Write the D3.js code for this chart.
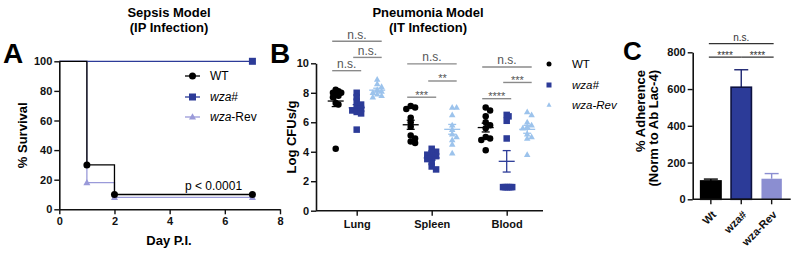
<!DOCTYPE html>
<html><head><meta charset="utf-8">
<script src="https://cdn.jsdelivr.net/npm/d3@7"></script>
<style>
body{margin:0;background:#fff}
svg{display:block;background:#fff}
text{font-family:"Liberation Sans",Arial,Helvetica,sans-serif}
</style>
</head><body>
<svg id="chart" width="798" height="253"></svg>
<script>
// ---------------- DATA ----------------
// Panel A: survival (Kaplan-Meier steps)
const survDaysWT  = [0, 1, 2, 7];
const survPctWT   = [100, 30, 10, 10];
const survDaysMut = [0, 7];
const survPctMut  = [100, 100];
const survDaysRev = [0, 1, 2, 7];
const survPctRev  = [100, 18, 8, 8];
const dayTicks  = [0, 2, 4, 6, 8];
const survTicks = [0, 20, 40, 60, 80, 100];
const survLegend = ["WT", "wza#", "wza-Rev"];
const survP = "p < 0.0001";

// Panel B: Log CFUs/g per organ
const organs = ["Lung", "Spleen", "Blood"];
const cfuGroups = ["WT", "wza#", "wza-Rev"];
const cfuWT  = [[8.2, 8.1, 8.0, 8.0, 7.9, 7.8, 7.7, 7.3, 7.2, 4.2],
                [7.1, 7.0, 6.9, 6.3, 6.0, 5.7, 5.1, 4.9, 4.7, 4.6],
                [7.0, 6.8, 6.4, 6.0, 5.8, 5.6, 5.0, 4.9, 4.8, 4.1]];
const cfuMut = [[8.0, 7.7, 7.4, 7.2, 7.0, 6.9, 6.8, 6.7, 6.6, 5.5],
                [4.2, 4.0, 3.9, 3.8, 3.7, 3.6, 3.5, 3.3, 3.0, 2.8],
                [6.5, 6.4, 6.1, 4.9, 1.6, 1.6, 1.6, 1.6, 1.6, 1.6]];
const cfuRev = [[8.9, 8.6, 8.4, 8.2, 8.1, 8.0, 7.9, 7.8, 7.7],
                [7.0, 7.0, 6.5, 5.8, 5.5, 5.2, 5.0, 4.8, 4.5, 3.9],
                [6.7, 6.5, 6.0, 5.8, 5.7, 5.6, 5.2, 5.0, 4.9, 3.8]];
const cfuTicks = [0, 2, 4, 6, 8, 10];
// significance: organ, group a, group b, label, height (log CFU units)
const cfuSigOrgan = ["Lung","Lung","Lung","Spleen","Spleen","Spleen","Blood","Blood","Blood"];
const cfuSigA     = ["WT","WT","wza#","WT","wza#","WT","WT","wza#","WT"];
const cfuSigB     = ["wza-Rev","wza#","wza-Rev","wza-Rev","wza-Rev","wza#","wza-Rev","wza-Rev","wza#"];
const cfuSigLabel = ["n.s.","n.s.","n.s.","n.s.","**","***","n.s.","***","****"];
const cfuSigLevel = [11.5, 9.5, 10.4, 9.96, 8.8, 7.7, 9.75, 8.7, 7.6];

// Panel C: adherence bars
const adhLabels = ["Wt", "wza#", "wza-Rev"];
const adhMean = [100, 610, 112];
const adhSem  = [10, 95, 28];
const adhTicks = [0, 200, 400, 600, 800];
const adhSigA = ["Wt", "Wt", "wza#"];
const adhSigB = ["wza-Rev", "wza#", "wza-Rev"];
const adhSigLabel = ["n.s.", "****", "****"];
const adhSigLevel = [847, 774, 774];

// ---------------- STYLE ----------------
const cBlack = "#000000", cMut = "#2c3b98";
const cRevA = "#9a9ad9", cRevB = "#9cc3ec", cRevC = "#8b8ed1";
const FONT = '"Liberation Sans",Arial,Helvetica,sans-serif';

const svg = d3.select("#chart");

function styleAxis(g, fs) {
  g.selectAll(".domain").attr("stroke", "#111").attr("stroke-width", 1.6);
  g.selectAll(".tick line").attr("stroke", "#111").attr("stroke-width", 1.4);
  g.selectAll(".tick text").attr("fill", "#111").attr("font-size", fs || 11)
    .attr("font-weight", "bold").attr("font-family", FONT);
}

function marker(sel, shape, size, color) {
  if (shape === "circle") return sel.append("circle").attr("r", size / 2).attr("fill", color);
  if (shape === "square") return sel.append("rect").attr("x", -size / 2).attr("y", -size / 2)
    .attr("width", size).attr("height", size).attr("fill", color);
  const h = size * 0.9;
  return sel.append("path").attr("d", `M0,${-h*0.6}L${size/2},${h*0.4}L${-size/2},${h*0.4}Z`).attr("fill", color);
}

// ================= PANEL A =================
{
  const xA = d3.scaleLinear([0, 8], [59.3, 280]);
  const yA = d3.scaleLinear([0, 100], [209.3, 61.3]);
  const g = svg.append("g");

  g.append("text").attr("x", 169).attr("y", 17).attr("text-anchor", "middle")
    .attr("font-size", 13).attr("font-weight", "bold").text("Sepsis Model");
  g.append("text").attr("x", 169).attr("y", 32).attr("text-anchor", "middle")
    .attr("font-size", 13).attr("font-weight", "bold").text("(IP Infection)");
  g.append("text").attr("x", 3).attr("y", 63).attr("font-size", 28)
    .attr("font-weight", "bold").text("A");

  const series = [
    {days: survDaysMut, pct: survPctMut, color: cMut, shape: "square"},
    {days: survDaysRev, pct: survPctRev, color: cRevA, shape: "triangle"},
    {days: survDaysWT,  pct: survPctWT,  color: cBlack, shape: "circle"}
  ];
  const line = d3.line().curve(d3.curveStepAfter).x(d => xA(d[0])).y(d => yA(d[1]));
  series.forEach(s => {
    const pts = s.days.map((d, i) => [d, s.pct[i]]);
    g.append("path").attr("d", line(pts)).attr("fill", "none")
      .attr("stroke", s.color).attr("stroke-width", 1.3);
  });
  series.forEach(s => {
    s.days.forEach((d, i) => {
      if (d === 0) return;
      const m = g.append("g").attr("transform", `translate(${xA(d)},${yA(s.pct[i])})`);
      marker(m, s.shape, 7, s.color);
    });
  });

  const ax = g.append("g").attr("transform", `translate(0,${yA(0)})`)
    .call(d3.axisBottom(xA).tickValues(dayTicks).tickSize(5).tickSizeOuter(0).tickPadding(3));
  styleAxis(ax, 11);
  const ay = g.append("g").attr("transform", `translate(${xA(0)},0)`)
    .call(d3.axisLeft(yA).tickValues(survTicks).tickSize(5).tickSizeOuter(0).tickPadding(2));
  styleAxis(ay, 11);

  g.append("text").attr("x", 169).attr("y", 245).attr("text-anchor", "middle")
    .attr("font-size", 13).attr("font-weight", "bold").text("Day P.I.");
  g.append("text").attr("transform", `translate(27,${(yA(0)+yA(100))/2}) rotate(-90)`)
    .attr("text-anchor", "middle").attr("font-size", 13).attr("font-weight", "bold").text("% Survival");

  // legend
  const legColors = [cBlack, cMut, cRevA];
  const legShapes = ["circle", "square", "triangle"];
  const legY = [76, 97, 117];
  survLegend.forEach((name, i) => {
    const lg = g.append("g").attr("transform", `translate(0,${legY[i]})`);
    lg.append("line").attr("x1", 185).attr("x2", 200).attr("stroke", legColors[i]).attr("stroke-width", 1.3);
    const m = lg.append("g").attr("transform", "translate(192.5,0)");
    marker(m, legShapes[i], 7, legColors[i]);
    const t = lg.append("text").attr("x", 210).attr("y", 4.3).attr("font-size", 12);
    if (name === "WT") t.text(name);
    else {
      const base = name.startsWith("wza") ? "wza" : "";
      t.append("tspan").attr("font-style", "italic").text(base);
      t.append("tspan").text(name.slice(base.length));
    }
  });
  g.append("text").attr("x", 185).attr("y", 190).attr("font-size", 12).text(survP);
}

// ================= PANEL B =================
{
  const yB = d3.scaleLinear([0, 10], [210.7, 63.3]);
  const xB = d3.scalePoint(organs, [356.7, 506.7]);
  const gOff = {"WT": -21, "wza#": 0, "wza-Rev": 20.5};
  const g = svg.append("g");

  g.append("text").attr("x", 428).attr("y", 17).attr("text-anchor", "middle")
    .attr("font-size", 13).attr("font-weight", "bold").text("Pneumonia Model");
  g.append("text").attr("x", 428).attr("y", 32).attr("text-anchor", "middle")
    .attr("font-size", 13).attr("font-weight", "bold").text("(IT Infection)");
  g.append("text").attr("x", 270).attr("y", 63).attr("font-size", 28)
    .attr("font-weight", "bold").text("B");

  const ay = g.append("g").attr("transform", "translate(316,0)")
    .call(d3.axisLeft(yB).tickValues(cfuTicks).tickSize(5).tickSizeOuter(0).tickPadding(2));
  styleAxis(ay, 11);
  const ax = g.append("g").attr("transform", `translate(0,${yB(0)})`)
    .call(d3.axisBottom(xB).tickSize(5).tickPadding(5));
  ax.select(".domain").remove();
  ax.append("line").attr("x1", 316).attr("x2", 543).attr("stroke", "#111").attr("stroke-width", 1.6);
  styleAxis(ax, 11);

  g.append("text").attr("transform", `translate(296,${(yB(0)+yB(10))/2}) rotate(-90)`)
    .attr("text-anchor", "middle").attr("font-size", 13).attr("font-weight", "bold").text("Log CFUs/g");

  const groupData = [cfuWT, cfuMut, cfuRev];
  const colors = [cBlack, cMut, cRevB];
  const shapes = ["circle", "square", "triangle"];

  // simple deterministic beeswarm placement, compressed to a max half-width
  function swarm(vals, D, step, maxHalf) {
    const pts = vals.map(v => ({v, y: yB(v), x: 0}));
    const order = pts.slice().sort((a, b) => a.y - b.y);
    const placed = [];
    order.forEach(p => {
      for (let k = 0; k < 40; k++) {
        const o = (k === 0) ? 0 : (k % 2 ? 1 : -1) * Math.ceil(k / 2) * step;
        if (placed.every(q => (q.x - o) ** 2 + (q.y - p.y) ** 2 >= D * D)) { p.x = o; break; }
      }
      placed.push(p);
    });
    const mx = d3.max(pts, p => Math.abs(p.x));
    if (mx > maxHalf) pts.forEach(p => p.x *= maxHalf / mx);
    return pts;
  }

  organs.forEach((org, oi) => {
    cfuGroups.forEach((grp, gi) => {
      const vals = groupData[gi][oi];
      const cx = xB(org) + gOff[grp];
      const pts = swarm(vals, 4.2, 2.2, 5.5);
      pts.forEach(p => {
        const m = g.append("g").attr("transform", `translate(${cx + p.x},${p.y})`);
        marker(m, shapes[gi], 6.5, colors[gi]);
      });
      const mean = d3.mean(vals);
      const sem = d3.deviation(vals) / Math.sqrt(vals.length);
      const ms = g.append("g").attr("stroke", colors[gi]).attr("stroke-width", 1.3);
      ms.append("line").attr("x1", cx - 8).attr("x2", cx + 8).attr("y1", yB(mean)).attr("y2", yB(mean));
      ms.append("line").attr("x1", cx).attr("x2", cx).attr("y1", yB(mean - sem)).attr("y2", yB(mean + sem));
      [mean - sem, mean + sem].forEach(v => ms.append("line").attr("x1", cx - 4).attr("x2", cx + 4)
        .attr("y1", yB(v)).attr("y2", yB(v)));
    });
  });

  // significance bars
  cfuSigLabel.forEach((lab, i) => {
    const x1 = xB(cfuSigOrgan[i]) + gOff[cfuSigA[i]] - 3.5;
    const x2 = xB(cfuSigOrgan[i]) + gOff[cfuSigB[i]] + 4.5;
    const y = yB(cfuSigLevel[i]);
    g.append("line").attr("x1", x1).attr("x2", x2).attr("y1", y).attr("y2", y)
      .attr("stroke", "#8a8a8a").attr("stroke-width", 1.4);
    const isStar = lab.includes("*");
    g.append("text").attr("x", (x1 + x2) / 2).attr("y", isStar ? y + 1.5 : y - 2.5)
      .attr("text-anchor", "middle").attr("font-size", isStar ? 11 : 12).attr("fill", "#555")
      .text(lab);
  });

  // legend
  const legY = [64, 85, 105];
  cfuGroups.forEach((name, i) => {
    const m = g.append("g").attr("transform", `translate(549,${legY[i]})`);
    marker(m, shapes[i], 5, colors[i]);
    g.append("text").attr("x", 572).attr("y", legY[i] + 4).attr("font-size", 11.5)
      .attr("font-style", name === "WT" ? "normal" : "italic").text(name);
  });
}

// ================= PANEL C =================
{
  const yC = d3.scaleLinear([0, 800], [199.3, 52.3]);
  const xC = d3.scaleBand(adhLabels, [695.5, 787]).paddingInner(0.33).paddingOuter(0.17);
  const g = svg.append("g");

  g.append("text").attr("x", 623).attr("y", 60).attr("font-size", 26)
    .attr("font-weight", "bold").text("C");

  const fills = [cBlack, cMut, cRevC];
  const strokes = [cBlack, "#0d1240", "none"];
  const errCols = [cBlack, "#1b2470", cRevC];
  adhLabels.forEach((lab, i) => {
    const x = xC(lab), w = xC.bandwidth();
    const top = yC(adhMean[i]), ep = yC(adhMean[i] + adhSem[i]);
    const cx = x + w / 2;
    g.append("line").attr("x1", cx).attr("x2", cx).attr("y1", top).attr("y2", ep)
      .attr("stroke", errCols[i]).attr("stroke-width", 1.4);
    g.append("line").attr("x1", cx - 7).attr("x2", cx + 7).attr("y1", ep).attr("y2", ep)
      .attr("stroke", errCols[i]).attr("stroke-width", 1.4);
    g.append("rect").attr("x", x).attr("y", top).attr("width", w).attr("height", yC(0) - top)
      .attr("fill", fills[i]).attr("stroke", strokes[i]).attr("stroke-width", 1.6);
  });

  const ay = g.append("g").attr("transform", "translate(692.7,0)")
    .call(d3.axisLeft(yC).tickValues(adhTicks).tickSize(5).tickSizeOuter(0).tickPadding(2));
  styleAxis(ay, 11);
  const ax = g.append("g").attr("transform", `translate(0,${yC(0)})`)
    .call(d3.axisBottom(xC).tickSize(5).tickPadding(4));
  ax.select(".domain").remove();
  ax.append("line").attr("x1", 692.7).attr("x2", 790.7).attr("stroke", "#111").attr("stroke-width", 1.6);
  styleAxis(ax, 11);
  ax.selectAll(".tick text").attr("text-anchor", "end").attr("dy", null)
    .attr("transform", "translate(6,16) rotate(-45)").attr("y", 0).attr("x", 0);

  g.append("text").attr("transform", "translate(645,70) rotate(-90)")
    .attr("text-anchor", "end").attr("font-size", 13).attr("font-weight", "bold").text("% Adherence");
  g.append("text").attr("transform", "translate(658,70) rotate(-90)")
    .attr("text-anchor", "end").attr("font-size", 13).attr("font-weight", "bold").text("(Norm to Ab Lac-4)");

  adhSigLabel.forEach((lab, i) => {
    const x1 = xC(adhSigA[i]) + xC.bandwidth() / 2 - 2;
    const x2 = xC(adhSigB[i]) + xC.bandwidth() / 2 + 2;
    const xs1 = adhSigA[i] === "wza#" ? x1 + 2 : x1;
    const xs2 = (adhSigB[i] === "wza#") ? x2 - 2 : x2;
    const y = yC(adhSigLevel[i]);
    g.append("line").attr("x1", xs1).attr("x2", xs2).attr("y1", y).attr("y2", y)
      .attr("stroke", "#333").attr("stroke-width", 1.3);
    const isStar = lab.includes("*");
    g.append("text").attr("x", (xs1 + xs2) / 2).attr("y", isStar ? y + 1.5 : y - 2.5)
      .attr("text-anchor", "middle").attr("font-size", 10).attr("fill", "#333").text(lab);
  });
}
</script>
</body></html>
